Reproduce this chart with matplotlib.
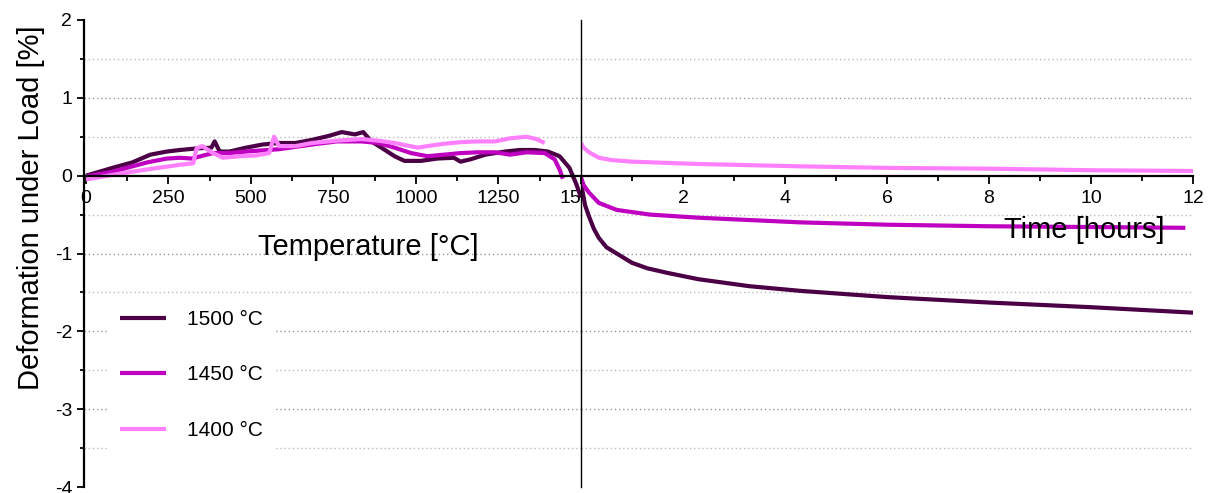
import matplotlib
matplotlib.use("Agg")
import matplotlib.pyplot as plt
from matplotlib.ticker import MultipleLocator, FixedLocator

plt.rcParams["font.family"] = ["Liberation Sans", "DejaVu Sans"]
plt.rcParams["axes.unicode_minus"] = False

# heating phase: deformation vs temperature
temp_1500 = [0, 80, 140, 195, 245, 285, 335, 380, 390, 405, 435, 485, 535, 585, 635, 685, 735, 775,
             815, 840, 865, 895, 935, 965, 1015, 1065, 1115, 1135, 1165, 1210, 1270, 1315, 1360,
             1400, 1435, 1465, 1485, 1500]
heat_1500 = [0.0, 0.10, 0.17, 0.27, 0.31, 0.33, 0.35, 0.36, 0.44, 0.31, 0.31, 0.36, 0.40, 0.42, 0.42,
             0.46, 0.51, 0.56, 0.53, 0.56, 0.44, 0.36, 0.25, 0.19, 0.19, 0.22, 0.23, 0.18, 0.21, 0.27,
             0.31, 0.33, 0.33, 0.31, 0.25, 0.10, -0.10, -0.28]

temp_1450 = [0, 80, 185, 245, 285, 320, 385, 435, 485, 585, 685, 760, 835, 885, 935, 985, 1035, 1085,
             1135, 1185, 1240, 1285, 1335, 1390, 1420, 1435, 1445]
heat_1450 = [-0.01, 0.05, 0.17, 0.22, 0.23, 0.22, 0.29, 0.29, 0.31, 0.34, 0.40, 0.44, 0.44, 0.42, 0.36,
             0.29, 0.25, 0.27, 0.29, 0.30, 0.30, 0.27, 0.30, 0.29, 0.21, 0.08, -0.04]

temp_1400 = [0, 80, 185, 285, 325, 335, 352, 385, 415, 465, 515, 555, 570, 585, 635, 685, 760, 835,
             885, 935, 1005, 1035, 1085, 1135, 1185, 1240, 1285, 1335, 1365, 1390]
heat_1400 = [-0.05, 0.01, 0.08, 0.14, 0.16, 0.35, 0.38, 0.29, 0.23, 0.25, 0.26, 0.29, 0.50, 0.38, 0.38,
             0.42, 0.45, 0.47, 0.45, 0.42, 0.36, 0.38, 0.41, 0.43, 0.44, 0.44, 0.48, 0.50, 0.47, 0.42]

# holding phase: deformation vs time
time_1500 = [0, 0.03, 0.08, 0.16, 0.25, 0.35, 0.5, 0.7, 1.0, 1.3, 1.7, 2.3, 3.3, 4.3, 6, 8, 10, 12]
hold_1500 = [-0.05, -0.2, -0.38, -0.53, -0.68, -0.80, -0.92, -1.0, -1.12, -1.19, -1.25, -1.33, -1.42,
             -1.48, -1.56, -1.63, -1.69, -1.76]

time_1450 = [0, 0.05, 0.16, 0.35, 0.7, 1.35, 2.3, 4.3, 6, 8, 10, 11.85]
hold_1450 = [-0.02, -0.12, -0.22, -0.35, -0.44, -0.50, -0.54, -0.60, -0.63, -0.65, -0.66, -0.67]

time_1400 = [0, 0.05, 0.16, 0.35, 0.6, 1.0, 2.3, 4.3, 6, 8, 10, 12]
hold_1400 = [0.42, 0.36, 0.30, 0.23, 0.20, 0.18, 0.15, 0.12, 0.10, 0.09, 0.07, 0.06]

labels = ["1500 °C", "1450 °C", "1400 °C"]
colors = ["#4B0046", "#C000C0", "#FF80FF"]
grid_levels = [-3.5, -3, -2.5, -2, -1.5, -1, -0.5, 0.5, 1, 1.5]

W, H = 1213, 493
fig = plt.figure(figsize=(W / 100, H / 100), dpi=100)
bottom, top = (H - 487) / H, (H - 20) / H
ax1 = fig.add_axes([84 / W, bottom, (581 - 84) / W, top - bottom])
ax2 = fig.add_axes([581 / W, bottom, (1193 - 581) / W, top - bottom])

for lev in grid_levels:
    c = "#999999" if lev == int(lev) else "#bbbbbb"
    for ax in (ax1, ax2):
        ax.axhline(lev, color=c, lw=1, ls=(0, (1, 2)), zorder=0)

for x, y, c, lab in zip([temp_1500, temp_1450, temp_1400], [heat_1500, heat_1450, heat_1400], colors, labels):
    ax1.plot(x, y, color=c, lw=3.0, label=lab, solid_capstyle="butt")
for x, y, c in zip([time_1500, time_1450, time_1400], [hold_1500, hold_1450, hold_1400], colors):
    ax2.plot(x, y, color=c, lw=3.0, solid_capstyle="butt")

for ax in (ax1, ax2):
    ax.set_ylim(-4, 2)
    ax.spines["top"].set_visible(False)
    ax.spines["right"].set_visible(False)
    ax.spines["bottom"].set_position(("data", 0))
    ax.spines["bottom"].set_linewidth(1.6)
    ax.tick_params(axis="x", which="major", direction="out", length=6, width=1.3, labelsize=14, pad=4)
    ax.tick_params(axis="x", which="minor", direction="out", length=3.5, width=1.3)

ax1.set_xlim(-6, 1500)
ax1.xaxis.set_major_locator(FixedLocator([0, 250, 500, 750, 1000, 1250, 1500]))
ax1.xaxis.set_minor_locator(FixedLocator([125, 375, 625, 875, 1125, 1375]))
ax1.spines["left"].set_linewidth(1.6)
ax1.yaxis.set_major_locator(MultipleLocator(1))
ax1.yaxis.set_minor_locator(MultipleLocator(0.5))
ax1.tick_params(axis="y", which="major", direction="out", length=5, width=1.3, labelsize=14)
ax1.tick_params(axis="y", which="minor", direction="out", length=3, width=1.3)

ax2.set_xlim(0, 12)
ax2.xaxis.set_major_locator(FixedLocator([2, 4, 6, 8, 10, 12]))
ax2.xaxis.set_minor_locator(FixedLocator([1, 3, 5, 7, 9, 11]))
ax2.spines["left"].set_linewidth(1.0)
ax2.set_yticks([])

leg = ax1.legend(loc="upper left", bbox_to_anchor=(97 / W, 1 - 287 / H), bbox_transform=fig.transFigure,
                 fontsize=15, frameon=True, facecolor="white", edgecolor="none", framealpha=1,
                 labelspacing=1.75, handlelength=2.2, handletextpad=1.0, borderpad=0.6)

fig.text(368 / W, 1 - 247 / H, "Temperature [°C]", ha="center", va="center", fontsize=21)
fig.text(1165 / W, 1 - 230 / H, "Time [hours]", ha="right", va="center", fontsize=21, zorder=10)
fig.text(31 / W, 1 - 208 / H, "Deformation under Load [%]", ha="center", va="center", rotation=90, fontsize=21)

fig.savefig("out.png", dpi=100)
